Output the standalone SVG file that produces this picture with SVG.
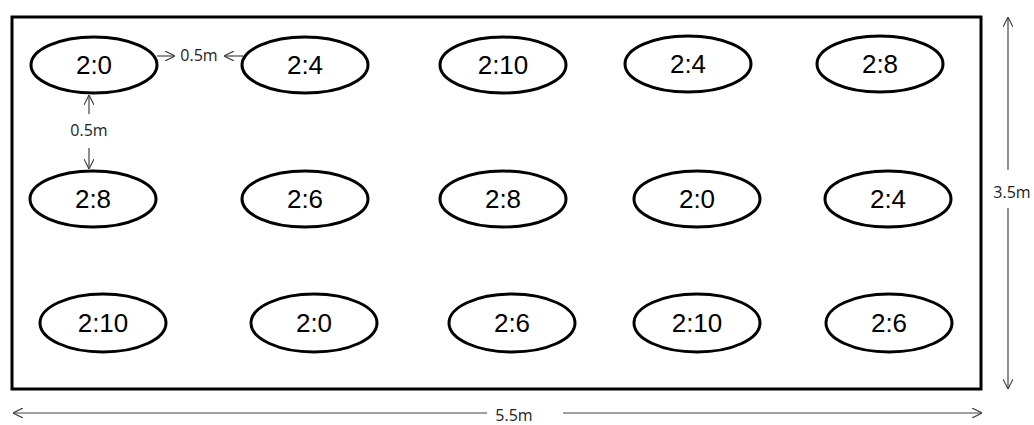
<svg xmlns="http://www.w3.org/2000/svg" width="1034" height="425" viewBox="0 0 1034 425">
<style>
.plot{fill:#fff;stroke:#000;stroke-width:3}
.n ellipse{fill:#fff;stroke:#000;stroke-width:3}
.n text{font-family:"Liberation Sans",Arial,sans-serif;font-size:26px;text-anchor:middle;fill:#000}
.dim{stroke:#444;stroke-width:1.2;fill:none}
.lbl{font-family:"Open Sans","Liberation Sans",Arial,sans-serif;font-size:16px;fill:#222;text-anchor:middle}
</style>
<defs>
<marker id="ah" viewBox="0 0 10 10" refX="10" refY="5" markerWidth="10" markerHeight="10" markerUnits="userSpaceOnUse" orient="auto">
<path d="M0,0 L10,5 L0,10" fill="none" stroke="#444" stroke-width="1.2"/>
</marker>
</defs>
<rect class="plot" x="12" y="17" width="969" height="372"/>
<g id="r1c1" class="n"><ellipse cx="94" cy="65" rx="63" ry="28"/><text x="94" y="74">2:0</text></g>
<g id="r1c2" class="n"><ellipse cx="305" cy="65" rx="63" ry="28"/><text x="305" y="74">2:4</text></g>
<g id="r1c3" class="n"><ellipse cx="503" cy="65" rx="63" ry="28"/><text x="503" y="74">2:10</text></g>
<g id="r1c4" class="n"><ellipse cx="688" cy="64" rx="63" ry="28"/><text x="688" y="73">2:4</text></g>
<g id="r1c5" class="n"><ellipse cx="880" cy="64" rx="63" ry="28"/><text x="880" y="73">2:8</text></g>
<g id="r2c1" class="n"><ellipse cx="93" cy="199" rx="63" ry="28"/><text x="93" y="208">2:8</text></g>
<g id="r2c2" class="n"><ellipse cx="305" cy="199" rx="63" ry="28"/><text x="305" y="208">2:6</text></g>
<g id="r2c3" class="n"><ellipse cx="503" cy="199" rx="63" ry="28"/><text x="503" y="208">2:8</text></g>
<g id="r2c4" class="n"><ellipse cx="697" cy="199" rx="63" ry="28"/><text x="697" y="208">2:0</text></g>
<g id="r2c5" class="n"><ellipse cx="888" cy="199" rx="63" ry="28"/><text x="888" y="208">2:4</text></g>
<g id="r3c1" class="n"><ellipse cx="103" cy="323" rx="63" ry="29"/><text x="103" y="332">2:10</text></g>
<g id="r3c2" class="n"><ellipse cx="314" cy="323" rx="63" ry="29"/><text x="314" y="332">2:0</text></g>
<g id="r3c3" class="n"><ellipse cx="512" cy="323" rx="63" ry="29"/><text x="512" y="332">2:6</text></g>
<g id="r3c4" class="n"><ellipse cx="697" cy="323" rx="63" ry="29"/><text x="697" y="332">2:10</text></g>
<g id="r3c5" class="n"><ellipse cx="889" cy="323" rx="63" ry="29"/><text x="889" y="332">2:6</text></g>
<g id="connectors">
<line class="dim" x1="157" y1="56" x2="175" y2="56" marker-end="url(#ah)"/>
<line class="dim" x1="243" y1="56" x2="224" y2="56" marker-end="url(#ah)"/>
<line class="dim" x1="89" y1="114" x2="89" y2="95" marker-end="url(#ah)"/>
<line class="dim" x1="89" y1="148" x2="89" y2="169" marker-end="url(#ah)"/>
<line class="dim" x1="1008" y1="170" x2="1008" y2="17" marker-end="url(#ah)"/>
<line class="dim" x1="1008" y1="208" x2="1008" y2="389" marker-end="url(#ah)"/>
<line class="dim" x1="487" y1="413" x2="13" y2="413" marker-end="url(#ah)"/>
<line class="dim" x1="563" y1="413" x2="982" y2="413" marker-end="url(#ah)"/>
</g>
<text class="lbl" x="199" y="61">0.5m</text>
<text class="lbl" x="89" y="136">0.5m</text>
<text class="lbl" x="1012" y="198">3.5m</text>
<text class="lbl" x="514" y="421">5.5m</text>
</svg>
